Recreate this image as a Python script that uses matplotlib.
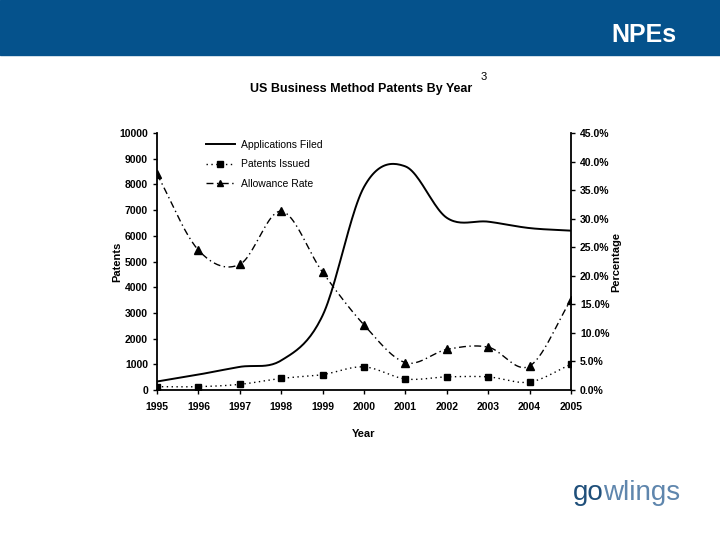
import numpy as np
from matplotlib import pyplot as plt

years = [1995, 1996, 1997, 1998, 1999, 2000, 2001, 2002, 2003, 2004, 2005]
applications = [330, 600, 900, 1150, 2900, 7900, 8700, 6700, 6550, 6300, 6200]
issued = [130, 130, 220, 450, 600, 900, 430, 510, 510, 310, 1000]
allowance = [37.8, 24.5, 22.0, 31.3, 20.6, 11.4, 4.8, 7.1, 7.5, 4.2, 15.8]


def smooth(x, y, n=24):
    # catmull-rom style curve through the points, like excel's smoothed line
    x = np.asarray(x, float)
    y = np.asarray(y, float)
    px = np.concatenate([[2 * x[0] - x[1]], x, [2 * x[-1] - x[-2]]])
    py = np.concatenate([[2 * y[0] - y[1]], y, [2 * y[-1] - y[-2]]])
    xs, ys = [], []
    t = np.linspace(0, 1, n, endpoint=False)
    for i in range(1, len(px) - 2):
        for arr, out in ((px, xs), (py, ys)):
            p0, p1, p2, p3 = arr[i - 1], arr[i], arr[i + 1], arr[i + 2]
            out.extend(0.5 * (2 * p1 + (-p0 + p2) * t
                              + (2 * p0 - 5 * p1 + 4 * p2 - p3) * t ** 2
                              + (-p0 + 3 * p1 - 3 * p2 + p3) * t ** 3))
    xs.append(x[-1])
    ys.append(y[-1])
    return np.array(xs), np.array(ys)


plt.rcParams['font.family'] = ['Liberation Sans', 'DejaVu Sans']
fig = plt.figure(figsize=(7.2, 5.4), dpi=100)

# banner
fig.patches.append(plt.Rectangle((0, 1 - 55 / 540), 1, 55 / 540, transform=fig.transFigure,
                                 color='#05528c', zorder=0))
fig.text(0.94, 0.935, 'NPEs', color='white', fontsize=18, fontweight='bold',
         ha='right', va='center')

fig.text(0.501, 0.835, 'US Business Method Patents By Year', fontsize=9, fontweight='bold',
         ha='center', va='center')
fig.text(0.668, 0.857, '3', fontsize=8, ha='left', va='center')

ax = fig.add_axes([157 / 720, 1 - 390 / 540, (571 - 157) / 720, (390 - 133) / 540])
ax2 = ax.twinx()

sx, sy = smooth(years, applications)
l1, = ax.plot(sx, sy, color='black', lw=1.4, label='Applications Filed')
sx, sy = smooth(years, issued)
ax.plot(sx, sy, color='black', lw=1, ls=(0, (1, 2.5)))
ax.plot(years, issued, ls='none', marker='s', ms=5, color='black')
l2, = ax.plot([], [], color='black', lw=1, ls=(0, (1, 2.5)), marker='s', ms=4,
              label='Patents Issued')

sx, sy = smooth(years, allowance)
ax2.plot(sx, sy, color='black', lw=1, ls=(0, (5, 2.5, 1, 2.5)))
ax2.plot(years, allowance, ls='none', marker='^', ms=6, color='black')
l3, = ax.plot([], [], color='black', lw=1, ls=(0, (5, 2.5, 1, 2.5)), marker='^', ms=5,
              label='Allowance Rate')

ax.set_xlim(1995, 2005)
ax.set_ylim(0, 10000)
ax2.set_ylim(0, 45)
ax.set_xticks(years)
ax.set_yticks(range(0, 10001, 1000))
ax2.set_yticks(range(0, 46, 5))
ax2.set_yticklabels([f'{v:.1f}%' for v in range(0, 46, 5)])

for a in (ax, ax2):
    a.spines['top'].set_visible(False)
    a.tick_params(labelsize=7.5, length=3, width=1)
    for s in a.spines.values():
        s.set_linewidth(1.3)
ax.tick_params(axis='x', pad=6)
ax.spines['right'].set_visible(False)
ax2.spines['left'].set_visible(False)
ax2.spines['bottom'].set_visible(False)
for lbl in ax.get_xticklabels() + ax.get_yticklabels() + ax2.get_yticklabels():
    lbl.set_fontweight('bold')

ax.set_xlabel('Year', fontsize=8, fontweight='bold', labelpad=12)
ax.set_ylabel('Patents', fontsize=8, fontweight='bold', labelpad=-2)
ax2.set_ylabel('Percentage', fontsize=8, fontweight='bold', rotation=90, labelpad=1)

ax.legend(handles=[l1, l2, l3], loc='upper left', bbox_to_anchor=(0.095, 1.01), frameon=False,
          fontsize=7.5, handlelength=2.8, handletextpad=0.6, labelspacing=0.9)

fig.text(0.838, 0.087, 'go', color='#1f4f7a', fontsize=20, ha='right', va='center')
fig.text(0.838, 0.087, 'wlings', color='#5f86ad', fontsize=20, ha='left', va='center')

fig.savefig('out.png', dpi=100)
